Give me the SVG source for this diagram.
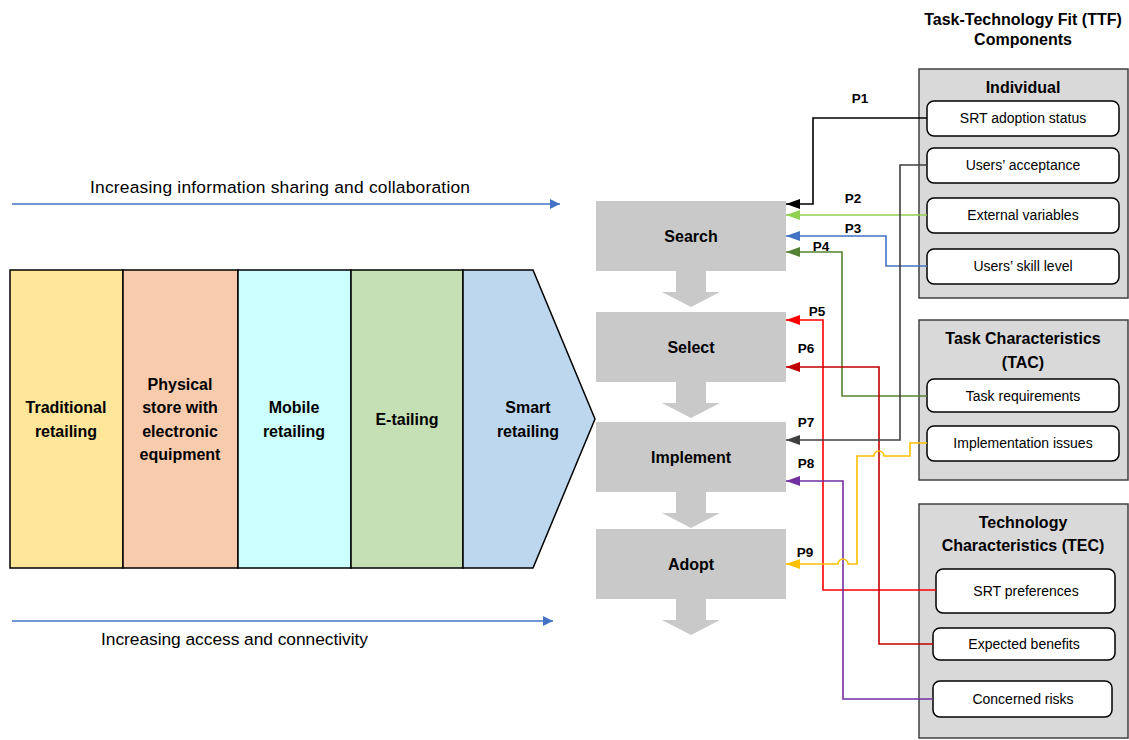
<svg xmlns="http://www.w3.org/2000/svg" width="1129" height="740" viewBox="0 0 1129 740">
<style>
text{font-family:"Liberation Sans",Arial,sans-serif;fill:#000}
.b{font-weight:bold;font-size:16px;text-anchor:middle}
.lbl{font-weight:bold;font-size:13.5px;text-anchor:middle}
.it{font-size:14px;text-anchor:middle}
.note{font-size:17.4px}
.stage{fill:#C9C9C9}
.comp{fill:#D9D9D9;stroke:#404040;stroke-width:1.5}
.inner{fill:#fff;stroke:#000;stroke-width:1.5}
.panel{stroke:#000;stroke-width:1.5}
.con{fill:none;stroke-width:1.6}
</style>
<defs>
<marker id="mk" viewBox="0 0 14 10" refX="14" refY="5" markerWidth="14" markerHeight="10" markerUnits="userSpaceOnUse" orient="auto"><path d="M0,0L14,5L0,10z" fill="#000"/></marker>
<marker id="m2" viewBox="0 0 14 10" refX="14" refY="5" markerWidth="14" markerHeight="10" markerUnits="userSpaceOnUse" orient="auto"><path d="M0,0L14,5L0,10z" fill="#92D050"/></marker>
<marker id="m3" viewBox="0 0 14 10" refX="14" refY="5" markerWidth="14" markerHeight="10" markerUnits="userSpaceOnUse" orient="auto"><path d="M0,0L14,5L0,10z" fill="#4472C4"/></marker>
<marker id="m4" viewBox="0 0 14 10" refX="14" refY="5" markerWidth="14" markerHeight="10" markerUnits="userSpaceOnUse" orient="auto"><path d="M0,0L14,5L0,10z" fill="#548235"/></marker>
<marker id="m5" viewBox="0 0 14 10" refX="14" refY="5" markerWidth="14" markerHeight="10" markerUnits="userSpaceOnUse" orient="auto"><path d="M0,0L14,5L0,10z" fill="#FF0000"/></marker>
<marker id="m6" viewBox="0 0 14 10" refX="14" refY="5" markerWidth="14" markerHeight="10" markerUnits="userSpaceOnUse" orient="auto"><path d="M0,0L14,5L0,10z" fill="#C00000"/></marker>
<marker id="m7" viewBox="0 0 14 10" refX="14" refY="5" markerWidth="14" markerHeight="10" markerUnits="userSpaceOnUse" orient="auto"><path d="M0,0L14,5L0,10z" fill="#404040"/></marker>
<marker id="m8" viewBox="0 0 14 10" refX="14" refY="5" markerWidth="14" markerHeight="10" markerUnits="userSpaceOnUse" orient="auto"><path d="M0,0L14,5L0,10z" fill="#7030A0"/></marker>
<marker id="m9" viewBox="0 0 14 10" refX="14" refY="5" markerWidth="14" markerHeight="10" markerUnits="userSpaceOnUse" orient="auto"><path d="M0,0L14,5L0,10z" fill="#FFC000"/></marker>
<marker id="mb" viewBox="0 0 10 10" refX="10" refY="5" markerWidth="12" markerHeight="10" markerUnits="userSpaceOnUse" orient="auto"><path d="M0,0L10,5L0,10z" fill="#4472C4"/></marker>
</defs>

<!-- Retailing evolution panel -->
<g id="retail-panel">
<rect class="panel" x="10" y="270" width="113" height="298" fill="#FFE699"/>
<rect class="panel" x="123" y="270" width="115" height="298" fill="#F8CBAD"/>
<rect class="panel" x="238" y="270" width="113" height="298" fill="#CCFFFF"/>
<rect class="panel" x="351" y="270" width="112" height="298" fill="#C5E0B4"/>
<path class="panel" d="M463,270H533L595,419L533,568H463z" fill="#BDD7EE"/>
<text class="b" x="66" y="413">Traditional</text>
<text class="b" x="66" y="437">retailing</text>
<text class="b" x="180" y="390">Physical</text>
<text class="b" x="180" y="413">store with</text>
<text class="b" x="180" y="437">electronic</text>
<text class="b" x="180" y="460">equipment</text>
<text class="b" x="294" y="413">Mobile</text>
<text class="b" x="294" y="437">retailing</text>
<text class="b" x="407" y="425">E-tailing</text>
<text class="b" x="528" y="413">Smart</text>
<text class="b" x="528" y="437">retailing</text>
</g>

<g id="trend-arrows">
<line x1="12" y1="204" x2="560" y2="204" stroke="#4472C4" stroke-width="1.5" marker-end="url(#mb)"/>
<text class="note" x="90" y="193" textLength="380" lengthAdjust="spacing">Increasing information sharing and collaboration</text>
<line x1="12" y1="621" x2="553" y2="621" stroke="#4472C4" stroke-width="1.5" marker-end="url(#mb)"/>
<text class="note" x="101" y="645" textLength="267" lengthAdjust="spacing">Increasing access and connectivity</text>
</g>

<!-- Stages -->
<g id="stage-search"><rect class="stage" x="596" y="201" width="190" height="70"/><text class="b" x="691" y="242">Search</text></g>
<path class="stage" d="M676,271H706V292H720L691,307L662,292H676z"/>
<g id="stage-select"><rect class="stage" x="596" y="312" width="190" height="70"/><text class="b" x="691" y="353">Select</text></g>
<path class="stage" d="M676,382H706V403H720L691,418L662,403H676z"/>
<g id="stage-implement"><rect class="stage" x="596" y="422" width="190" height="70"/><text class="b" x="691" y="463">Implement</text></g>
<path class="stage" d="M676,492H706V513H720L691,528L662,513H676z"/>
<g id="stage-adopt"><rect class="stage" x="596" y="529" width="190" height="70"/><text class="b" x="691" y="570">Adopt</text></g>
<path class="stage" d="M676,599H706V620H720L691,635L662,620H676z"/>

<!-- TTF components -->
<text class="b" x="1023" y="25">Task-Technology Fit (TTF)</text>
<text class="b" x="1023" y="45">Components</text>

<g id="individual">
<rect class="comp" x="919" y="69" width="209" height="229"/>
<text class="b" x="1023" y="93">Individual</text>
<g id="srt-adoption"><rect class="inner" x="927" y="101" width="192" height="35" rx="7"/><text class="it" x="1023" y="123">SRT adoption status</text></g>
<g id="users-acceptance"><rect class="inner" x="927" y="148" width="192" height="35" rx="7"/><text class="it" x="1023" y="170">Users’ acceptance</text></g>
<g id="external-variables"><rect class="inner" x="927" y="198" width="192" height="35" rx="7"/><text class="it" x="1023" y="220">External variables</text></g>
<g id="skill-level"><rect class="inner" x="927" y="249" width="192" height="35" rx="7"/><text class="it" x="1023" y="271">Users’ skill level</text></g>
</g>

<g id="tac">
<rect class="comp" x="919" y="320" width="209" height="160"/>
<text class="b" x="1023" y="344">Task Characteristics</text>
<text class="b" x="1023" y="368">(TAC)</text>
<g id="task-req"><rect class="inner" x="927" y="379" width="192" height="33" rx="7"/><text class="it" x="1023" y="401">Task requirements</text></g>
<g id="impl-issues"><rect class="inner" x="927" y="426" width="192" height="35" rx="7"/><text class="it" x="1023" y="448">Implementation issues</text></g>
</g>

<g id="tec">
<rect class="comp" x="919" y="504" width="209" height="234"/>
<text class="b" x="1023" y="528">Technology</text>
<text class="b" x="1023" y="551">Characteristics (TEC)</text>
<g id="srt-pref"><rect class="inner" x="936" y="569" width="179" height="44" rx="7"/><text class="it" x="1026" y="596">SRT preferences</text></g>
<g id="exp-benefits"><rect class="inner" x="933" y="628" width="182" height="32" rx="7"/><text class="it" x="1024" y="649">Expected benefits</text></g>
<g id="risks"><rect class="inner" x="933" y="681" width="179" height="36" rx="7"/><text class="it" x="1023" y="704">Concerned risks</text></g>
</g>

<!-- Connectors -->
<g id="connectors">
<path class="con" stroke="#000" d="M927,118H813V204H786" marker-end="url(#mk)"/>
<path class="con" stroke="#92D050" d="M927,215H786" marker-end="url(#m2)"/>
<path class="con" stroke="#4472C4" d="M927,266H886V236H786" marker-end="url(#m3)"/>
<path class="con" stroke="#548235" d="M927,396H842V252H786" marker-end="url(#m4)"/>
<path class="con" stroke="#FF0000" d="M936,590H823V320H786" marker-end="url(#m5)"/>
<path class="con" stroke="#C00000" d="M933,644H879V367H786" marker-end="url(#m6)"/>
<path class="con" stroke="#404040" d="M927,165H900V440H786" marker-end="url(#m7)"/>
<path class="con" stroke="#7030A0" d="M933,699H843V481H786" marker-end="url(#m8)"/>
<path class="con" stroke="#FFC000" d="M927,443H910V456H884A5,5 0 0 0 874,456H857V564H848A5,5 0 0 0 838,564H786" marker-end="url(#m9)"/>
<text class="lbl" x="860" y="103">P1</text>
<text class="lbl" x="853" y="203">P2</text>
<text class="lbl" x="853" y="233">P3</text>
<text class="lbl" x="821" y="251">P4</text>
<text class="lbl" x="817" y="316">P5</text>
<text class="lbl" x="806" y="353">P6</text>
<text class="lbl" x="806" y="427">P7</text>
<text class="lbl" x="806" y="468">P8</text>
<text class="lbl" x="805" y="557">P9</text>
</g>
</svg>
